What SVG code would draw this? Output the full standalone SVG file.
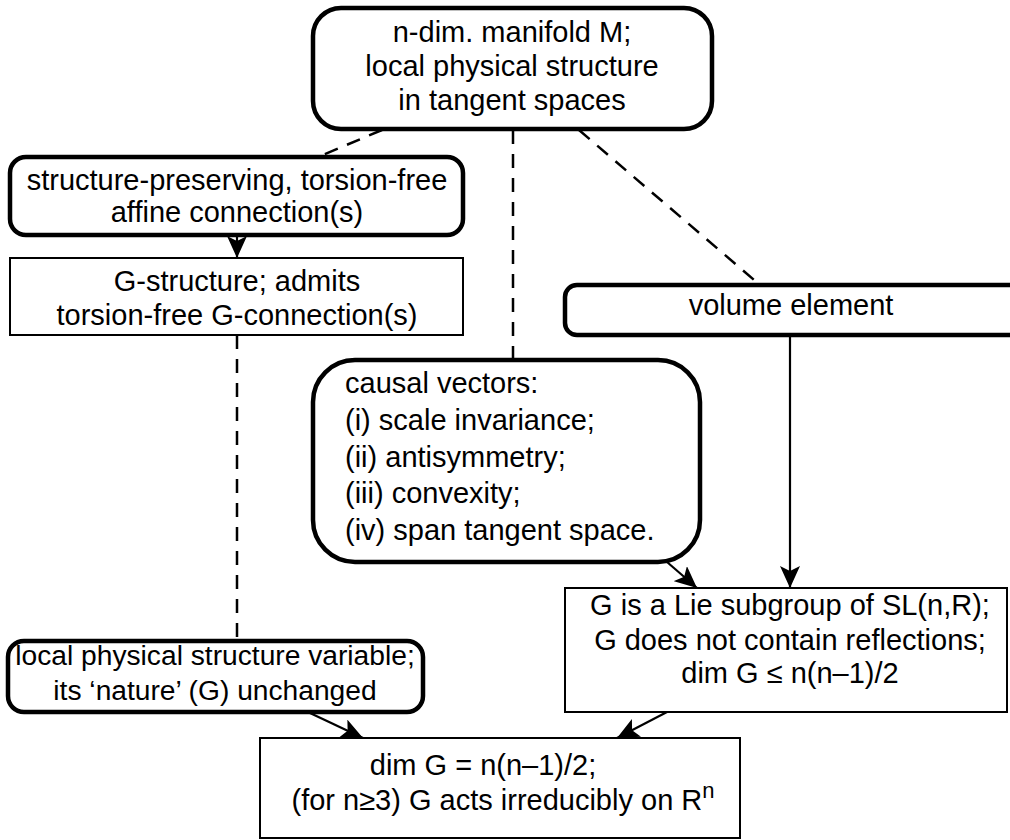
<svg xmlns="http://www.w3.org/2000/svg" width="1010" height="840" viewBox="0 0 1010 840">
<style>
text{font-family:"Liberation Sans",Arial,sans-serif;font-size:29px;fill:#000}
.c{text-anchor:middle}
.s{font-size:28.2px}
.rb{fill:#fff;stroke:#000;stroke-width:4.5}
.sb{fill:#fff;stroke:#000;stroke-width:2}
.d{fill:none;stroke:#000;stroke-width:2.5;stroke-dasharray:14 10}
.a{fill:none;stroke:#000;stroke-width:2.2;marker-end:url(#ah)}
</style>
<defs>
<marker id="ah" viewBox="0 0 22 20" refX="22" refY="10" markerWidth="22" markerHeight="20" markerUnits="userSpaceOnUse" orient="auto">
<path d="M0,0 L22,10 L0,20 L5,10 z" fill="#000"/>
</marker>
</defs>
<rect width="1010" height="840" fill="#fff"/>
<g id="connectors">
<line class="d" x1="382" y1="130" x2="318" y2="157"/>
<line class="d" x1="513" y1="130" x2="513" y2="360"/>
<line class="d" x1="579" y1="130" x2="760" y2="285"/>
<line class="a" x1="237" y1="235" x2="237" y2="258"/>
<line class="d" x1="237" y1="335" x2="237" y2="638"/>
<line class="a" x1="790" y1="335" x2="790" y2="588"/>
<line class="a" x1="667" y1="562" x2="697" y2="588"/>
<line class="a" x1="310" y1="713" x2="363" y2="738"/>
<line class="a" x1="667" y1="712" x2="617" y2="738"/>
</g>
<g id="manifold">
<rect class="rb" x="313" y="8" width="399" height="121" rx="28"/>
<text class="c" x="512" y="42">n-dim. manifold M;</text>
<text class="c" x="512" y="76">local physical structure</text>
<text class="c" x="512" y="110">in tangent spaces</text>
</g>
<g id="affine">
<rect class="rb" x="10" y="157" width="453" height="78" rx="16"/>
<text class="c" x="237" y="190">structure-preserving, torsion-free</text>
<text class="c" x="237" y="222">affine connection(s)</text>
</g>
<g id="gstructure">
<rect class="sb" x="10" y="258" width="453" height="77"/>
<text class="c" x="237" y="291">G-structure; admits</text>
<text class="c" x="237" y="325">torsion-free G-connection(s)</text>
</g>
<g id="volume">
<rect class="rb" x="565" y="285" width="470" height="50" rx="12"/>
<text class="c" x="791" y="315">volume element</text>
</g>
<g id="causal">
<rect class="rb" x="313" y="360" width="387" height="202" rx="42"/>
<text x="345" y="393">causal vectors:</text>
<text x="345" y="430">(i) scale invariance;</text>
<text x="345" y="467">(ii) antisymmetry;</text>
<text x="345" y="503">(iii) convexity;</text>
<text x="345" y="540">(iv) span tangent space.</text>
</g>
<g id="lie">
<rect class="sb" x="565" y="588" width="442" height="124"/>
<text class="c" x="790" y="615">G is a Lie subgroup of SL(n,R);</text>
<text class="c" x="790" y="650">G does not contain reflections;</text>
<text class="c" x="790" y="683">dim G ≤ n(n–1)/2</text>
</g>
<g id="variable">
<rect class="rb" x="8" y="641" width="415" height="71" rx="16"/>
<text class="c s" x="215" y="665">local physical structure variable;</text>
<text class="c s" x="215" y="700">its ‘nature’ (G) unchanged</text>
</g>
<g id="result">
<rect class="sb" x="260" y="738" width="480" height="100"/>
<text class="c" x="483" y="775">dim G = n(n–1)/2;</text>
<text class="c" x="503" y="810">(for n≥3) G acts irreducibly on R<tspan dy="-12" font-size="22">n</tspan></text>
</g>
</svg>
